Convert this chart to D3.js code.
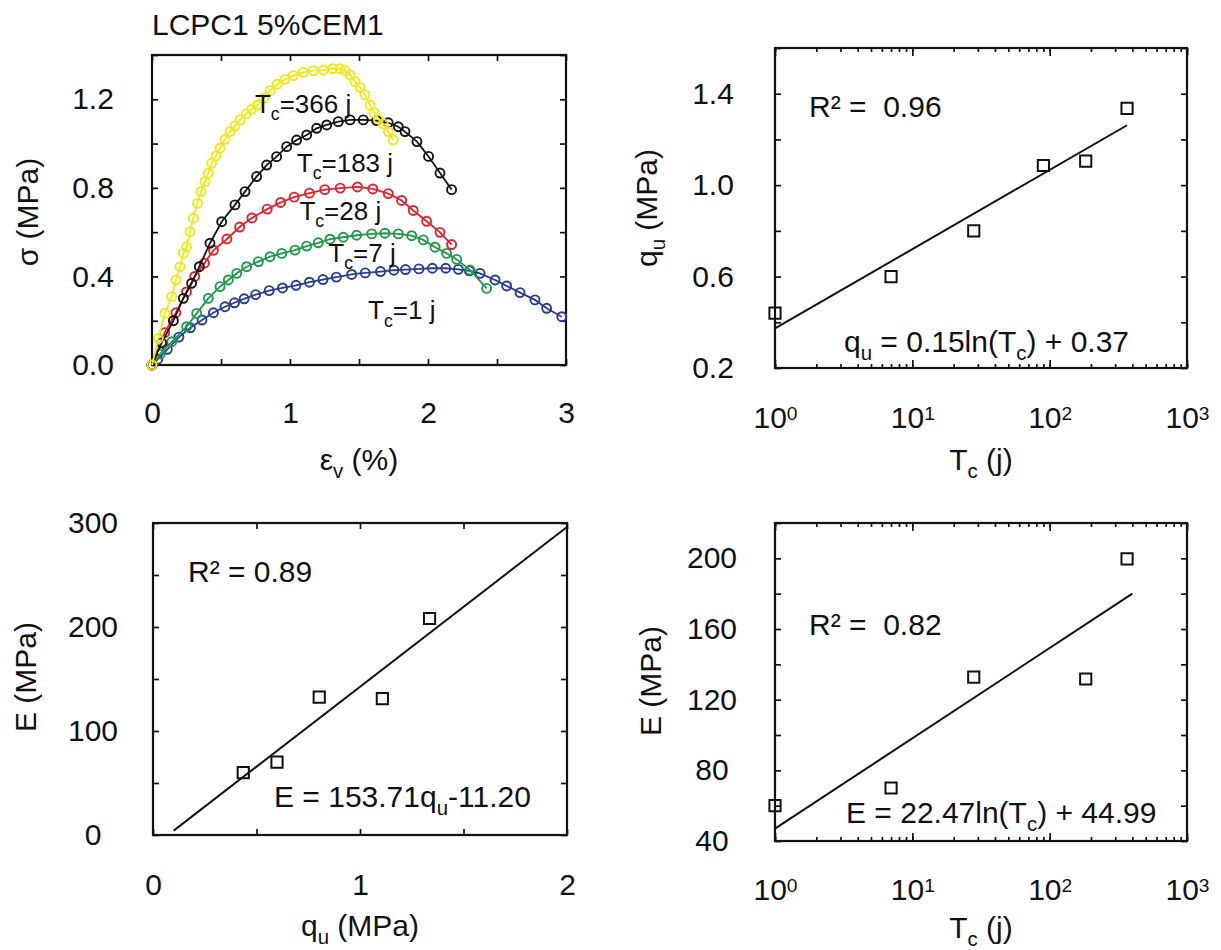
<!DOCTYPE html>
<html>
<head>
<meta charset="utf-8">
<script src="https://cdn.jsdelivr.net/npm/d3@7"></script>
<style>
  body { margin: 0; background: #fff; }
  svg text { font-family: "Liberation Sans", Arial, sans-serif; fill: #111; }
</style>
</head>
<body>
<svg id="chart" width="1221" height="950"></svg>
<script>
// ---- stress / strain curves, [eps_v (%), sigma (MPa)] ----
const tc1 = [[0,0],[0.042,0.026],[0.111,0.071],[0.195,0.126],[0.278,0.168],[0.362,0.203],[0.445,0.236],[0.529,0.263],[0.598,0.281],[0.668,0.299],[0.751,0.318],[0.849,0.336],[0.946,0.348],[1.044,0.360],[1.141,0.374],[1.239,0.386],[1.336,0.397],[1.447,0.409],[1.545,0.416],[1.656,0.422],[1.753,0.428],[1.837,0.431],[1.934,0.434],[2.032,0.437],[2.129,0.437],[2.22,0.432],[2.30,0.425],[2.377,0.414],[2.486,0.384],[2.57,0.357],[2.667,0.327],[2.775,0.294],[2.86,0.256],[2.969,0.218]];
const tc7 = [[0,0],[0.06,0.05],[0.143,0.105],[0.251,0.173],[0.324,0.233],[0.408,0.301],[0.493,0.354],[0.553,0.384],[0.614,0.414],[0.686,0.444],[0.771,0.467],[0.855,0.489],[0.940,0.504],[1.036,0.519],[1.121,0.537],[1.205,0.552],[1.290,0.568],[1.386,0.577],[1.483,0.586],[1.592,0.592],[1.688,0.595],[1.785,0.592],[1.882,0.584],[1.966,0.565],[2.051,0.532],[2.135,0.504],[2.208,0.477],[2.304,0.429],[2.425,0.346]];
const tc28 = [[0,0],[0.092,0.146],[0.173,0.236],[0.25,0.33],[0.31,0.40],[0.38,0.46],[0.445,0.518],[0.543,0.569],[0.635,0.623],[0.724,0.664],[0.835,0.704],[0.932,0.734],[1.030,0.758],[1.141,0.776],[1.252,0.792],[1.364,0.799],[1.489,0.804],[1.600,0.795],[1.712,0.774],[1.809,0.743],[1.893,0.698],[1.990,0.649],[2.087,0.599],[2.171,0.544]];
const tc183 = [[0,0],[0.07,0.10],[0.155,0.200],[0.227,0.301],[0.287,0.369],[0.343,0.444],[0.420,0.550],[0.505,0.647],[0.601,0.723],[0.674,0.783],[0.758,0.851],[0.831,0.903],[0.903,0.941],[0.976,0.986],[1.048,1.016],[1.121,1.039],[1.193,1.069],[1.266,1.084],[1.350,1.099],[1.435,1.107],[1.531,1.107],[1.628,1.104],[1.712,1.094],[1.785,1.076],[1.833,1.054],[1.920,1.009],[2.004,0.942],[2.087,0.867],[2.171,0.792]];
const tc366 = [[0,0],[0.046,0.12],[0.094,0.233],[0.143,0.309],[0.174,0.384],[0.203,0.444],[0.227,0.504],[0.251,0.534],[0.275,0.602],[0.300,0.663],[0.329,0.730],[0.355,0.783],[0.384,0.828],[0.408,0.866],[0.432,0.911],[0.464,0.944],[0.493,0.979],[0.529,1.019],[0.565,1.054],[0.601,1.079],[0.638,1.107],[0.681,1.134],[0.722,1.155],[0.763,1.174],[0.81,1.205],[0.855,1.239],[0.908,1.268],[0.964,1.290],[1.024,1.307],[1.097,1.322],[1.169,1.329],[1.242,1.332],[1.309,1.338],[1.362,1.338],[1.399,1.329],[1.435,1.310],[1.471,1.280],[1.507,1.254],[1.543,1.220],[1.580,1.174],[1.609,1.140],[1.640,1.110],[1.676,1.089],[1.712,1.054],[1.749,1.016]];
const curveDays = ["1", "7", "28", "183", "366"];
// where each "Tc=.. j" label sits, in data units
const curveLabelAt = [[1.566, 0.206], [1.278, 0.467], [1.068, 0.655], [1.049, 0.873], [0.746, 1.14]];

// ---- qu vs Tc ----
const tcDays = [1, 7, 28, 90, 183, 366];
const quVals = [0.44, 0.60, 0.80, 1.086, 1.105, 1.336];
const quFitTc = [1, 366];
const quFitVal = [0.373, 1.262];

// ---- E vs qu ----
const quForE = [0.436, 0.599, 0.803, 1.108, 1.336];
const eVsQu = [60, 70, 132.5, 131.2, 208.2];
const eFitQu = [0.1, 2.0];
const eFitQuVal = [4.2, 296.2];

// ---- E vs Tc ----
const tcForE = [1, 7, 28, 183, 366];
const eVsTc = [60, 70, 132.8, 131.7, 199.7];
const eFitTc = [1, 400];
const eFitTcVal = [47, 180];

// tick values
const epsTicks = [0, 0.5, 1, 1.5, 2, 2.5, 3], epsLabels = [0, 1, 2, 3];
const sigTicks = [0, 0.2, 0.4, 0.6, 0.8, 1.0, 1.2, 1.4], sigLabels = [0, 0.4, 0.8, 1.2];
const quTicks = [0.2, 0.4, 0.6, 0.8, 1.0, 1.2, 1.4, 1.6], quLabels = [0.2, 0.6, 1.0, 1.4];
const decades = [1, 10, 100, 1000];
const quAxTicks = [0, 0.5, 1, 1.5, 2], quAxLabels = [0, 1, 2];
const eTicks = [0, 50, 100, 150, 200, 250, 300], eLabels = [0, 100, 200, 300];
const e2Ticks = [40, 60, 80, 100, 120, 140, 160, 180, 200, 220], e2Labels = [40, 80, 120, 160, 200];

const curveColors = ["#283d96", "#1f9a4a", "#e5212b", "#141414", "#f3e816"];
const FS = 30;
const svg = d3.select("#chart");

// panels
const xA = d3.scaleLinear().domain([0, 3]).range([152, 566]);
const yA = d3.scaleLinear().domain([0, 1.4]).range([365, 55]);
const xB = d3.scaleLog().domain([1, 1000]).range([775, 1187]);
const yB = d3.scaleLinear().domain([0.2, 1.6]).range([368, 48]);
const xC = d3.scaleLinear().domain([0, 2]).range([153, 567]);
const yC = d3.scaleLinear().domain([0, 300]).range([835, 523]);
const xD = d3.scaleLog().domain([1, 1000]).range([775, 1187]);
const yD = d3.scaleLinear().domain([40, 220]).range([841, 523]);

// text with sub/superscript pieces: parts = [[txt, "sub"|"sup"|undefined], ...]
function rich(parent, x, y, parts, size, anchor) {
  const t = parent.append("text").attr("x", x).attr("y", y)
    .attr("font-size", size).attr("text-anchor", anchor || "start")
    .style("white-space", "pre");
  let shift = 0;
  parts.forEach(p => {
    const s = p[1] === "sub" ? size * 0.28 : p[1] === "sup" ? -size * 0.4 : 0;
    t.append("tspan").attr("dy", s - shift).attr("font-size", p[1] ? size * 0.68 : size).text(p[0]);
    shift = s;
  });
  return t;
}

function vtitle(x, y, parts) {
  const g = svg.append("g").attr("transform", `translate(${x},${y}) rotate(-90)`);
  rich(g, 0, 0, parts, FS, "middle");
}

function clean(sel) {
  sel.select(".domain").remove();
  sel.selectAll("line").attr("stroke", "#111").attr("stroke-width", 1.7);
}

function axes(x, y, o) {
  const [x0, x1] = x.range(), [y0, y1] = y.range();
  const g = svg.append("g");
  // inward ticks, mirrored on every side
  o.xTicks.forEach(([vals, len]) => {
    g.append("g").attr("transform", `translate(0,${y0})`)
      .call(d3.axisBottom(x).tickValues(vals).tickSize(-len).tickFormat("")).call(clean);
    g.append("g").attr("transform", `translate(0,${y1})`)
      .call(d3.axisTop(x).tickValues(vals).tickSize(-len).tickFormat("")).call(clean);
  });
  g.append("g").attr("transform", `translate(${x0},0)`)
    .call(d3.axisLeft(y).tickValues(o.yTicks).tickSize(-6).tickFormat("")).call(clean);
  g.append("g").attr("transform", `translate(${x1},0)`)
    .call(d3.axisRight(y).tickValues(o.yTicks).tickSize(-6).tickFormat("")).call(clean);

  const xl = g.append("g").attr("transform", `translate(0,${y0})`)
    .call(d3.axisBottom(x).tickValues(o.xLabels).tickSize(0).tickPadding(o.xPad)
      .tickFormat(o.log ? () => "" : o.xFmt));
  xl.select(".domain").remove();
  xl.attr("font-size", FS);
  if (o.log) {
    xl.selectAll(".tick text").each(function(d) {
      const t = d3.select(this);
      t.append("tspan").text("10");
      t.append("tspan").attr("dy", -8).attr("font-size", FS * 0.64).text(Math.round(Math.log10(d)));
    });
  }
  const yl = g.append("g").attr("transform", `translate(${x0},0)`)
    .call(d3.axisLeft(y).tickValues(o.yLabels).tickSize(0).tickFormat(o.yFmt));
  yl.select(".domain").remove();
  yl.attr("font-size", FS).attr("text-anchor", "middle");
  yl.selectAll("text").attr("x", -o.yOff);

  svg.append("rect").attr("x", x0).attr("y", y1).attr("width", x1 - x0).attr("height", y0 - y1)
    .attr("fill", "none").attr("stroke", "#111").attr("stroke-width", 2.2);
}

function squares(x, y, xs, ys) {
  svg.append("g").selectAll("path").data(xs).join("path")
    .attr("transform", (d, i) => `translate(${x(d)},${y(ys[i])})`)
    .attr("d", d3.symbol(d3.symbolSquare, 125))
    .attr("fill", "none").attr("stroke", "#111").attr("stroke-width", 2);
}

function fitLine(x, y, xs, ys) {
  svg.append("path")
    .attr("d", d3.line().x(d => x(d)).y((d, i) => y(ys[i]))(xs))
    .attr("fill", "none").attr("stroke", "#111").attr("stroke-width", 2);
}

// ===== top left: stress-strain =====
svg.append("text").attr("x", 152).attr("y", 35).attr("font-size", FS).text("LCPC1 5%CEM1");
axes(xA, yA, {
  xTicks: [[epsTicks, 6]], xLabels: epsLabels, xFmt: d3.format("d"), xPad: 37,
  yTicks: sigTicks, yLabels: sigLabels, yFmt: d3.format(".1f"), yOff: 59
});
[tc1, tc7, tc28, tc183, tc366].forEach((pts, i) => {
  const g = svg.append("g").attr("stroke", curveColors[i]).attr("fill", "none");
  g.append("path").attr("stroke-width", 1.8)
    .attr("d", d3.line().x(d => xA(d[0])).y(d => yA(d[1]))(pts));
  g.selectAll("circle").data(pts).join("circle")
    .attr("cx", d => xA(d[0])).attr("cy", d => yA(d[1])).attr("r", 4.5)
    .attr("stroke-width", 1.9);
});
curveDays.forEach((d, i) => {
  rich(svg, xA(curveLabelAt[i][0]), yA(curveLabelAt[i][1]),
    [["T"], ["c", "sub"], ["=" + d + " j"]], 26);
});
rich(svg, xA(1.5), 470, [["\u03b5"], ["v", "sub"], [" (%)"]], FS, "middle");
vtitle(38, 212, [["\u03c3 (MPa)"]]);

// ===== top right: qu vs Tc =====
axes(xB, yB, {
  xTicks: [[xB.ticks(), 4], [decades, 8]], xLabels: decades, log: true, xPad: 39,
  yTicks: quTicks, yLabels: quLabels, yFmt: d3.format(".1f"), yOff: 62
});
fitLine(xB, yB, quFitTc, quFitVal);
squares(xB, yB, tcDays, quVals);
rich(svg, 809, 117, [["R\u00b2 =  0.96"]], FS);
rich(svg, 844, 352, [["q"], ["u", "sub"], [" = 0.15ln(T"], ["c", "sub"], [") + 0.37"]], FS);
rich(svg, 981, 470, [["T"], ["c", "sub"], [" (j)"]], FS, "middle");
vtitle(657, 208, [["q"], ["u", "sub"], [" (MPa)"]]);

// ===== bottom left: E vs qu =====
axes(xC, yC, {
  xTicks: [[quAxTicks, 6]], xLabels: quAxLabels, xFmt: d3.format("d"), xPad: 39,
  yTicks: eTicks, yLabels: eLabels, yFmt: d3.format("d"), yOff: 60
});
fitLine(xC, yC, eFitQu, eFitQuVal);
squares(xC, yC, quForE, eVsQu);
rich(svg, 188, 582, [["R\u00b2 = 0.89"]], FS);
rich(svg, 274, 807, [["E = 153.71q"], ["u", "sub"], ["-11.20"]], FS);
rich(svg, 360, 936, [["q"], ["u", "sub"], [" (MPa)"]], FS, "middle");
vtitle(36, 677, [["E (MPa)"]]);

// ===== bottom right: E vs Tc =====
axes(xD, yD, {
  xTicks: [[xD.ticks(), 4], [decades, 8]], xLabels: decades, log: true, xPad: 38,
  yTicks: e2Ticks, yLabels: e2Labels, yFmt: d3.format("d"), yOff: 63
});
fitLine(xD, yD, eFitTc, eFitTcVal);
squares(xD, yD, tcForE, eVsTc);
rich(svg, 809, 635, [["R\u00b2 =  0.82"]], FS);
rich(svg, 846, 823, [["E = 22.47ln(T"], ["c", "sub"], [") + 44.99"]], FS);
rich(svg, 981, 938, [["T"], ["c", "sub"], [" (j)"]], FS, "middle");
vtitle(661, 681, [["E (MPa)"]]);
</script>
</body>
</html>
